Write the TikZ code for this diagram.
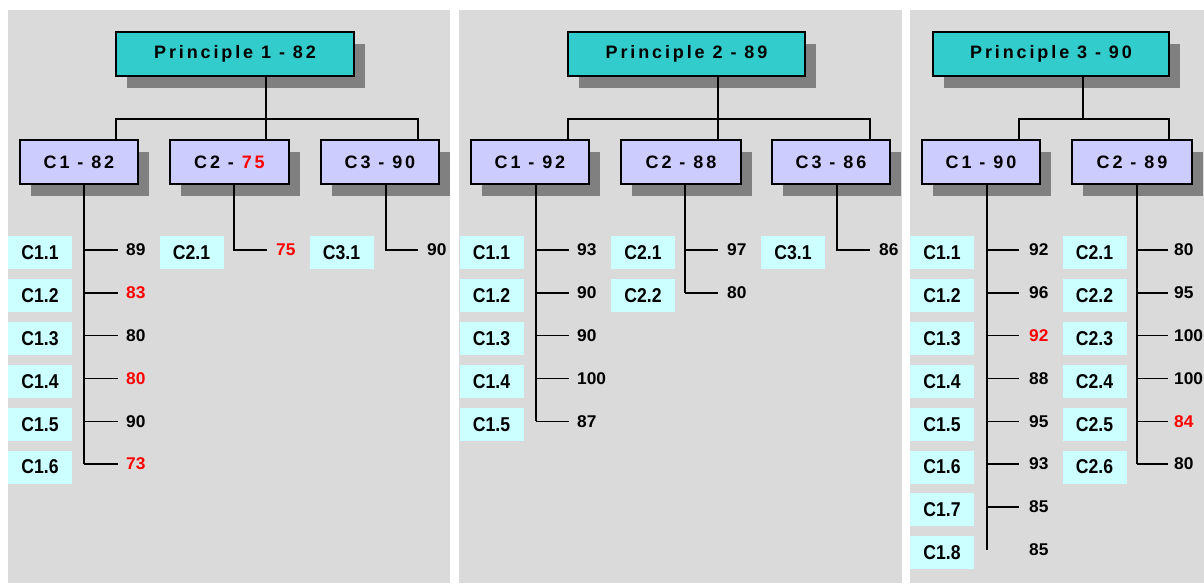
\documentclass[tikz,border=0pt]{standalone}
\usepackage{fontspec}
\setmainfont{Liberation Sans}
\newfontfamily\hdrfont[LetterSpace=16]{Liberation Sans}
\newfontfamily\lblfont[FakeStretch=0.88]{Liberation Sans}
\newfontfamily\numfont[FakeStretch=1.02]{Liberation Sans}
\usetikzlibrary{calc,shadows}
\definecolor{bggray}{RGB}{218,218,218}
\definecolor{princ}{RGB}{51,204,204}
\definecolor{cboxc}{RGB}{204,204,255}
\definecolor{leafc}{RGB}{204,255,255}
\definecolor{shadowc}{RGB}{128,128,128}
\definecolor{redc}{RGB}{255,0,0}
\begin{document}
\begin{tikzpicture}[x=1pt,y=-1pt,
  panel/.style={fill=bggray,draw=none},
  shad/.style={drop shadow={shadow xshift=11pt,shadow yshift=-12pt,fill=shadowc,opacity=1}},
  pbox/.style={shad,draw=black,line width=1.4pt,fill=princ,minimum height=44pt,inner sep=0pt,
    font=\hdrfont\bfseries\fontsize{18}{18}\selectfont},
  cbox/.style={shad,draw=black,line width=1.4pt,fill=cboxc,minimum height=44pt,inner sep=0pt,
    font=\hdrfont\bfseries\fontsize{18}{18}\selectfont},
  leaf/.style={fill=leafc,draw=none,minimum width=64pt,minimum height=33pt,inner sep=0pt,
    font=\lblfont\bfseries\fontsize{20}{20}\selectfont},
  num/.style={anchor=west,inner sep=0pt,font=\numfont\bfseries\fontsize{17}{17}\selectfont},
  conn/.style={draw=black,line width=1.4pt}
]
\useasboundingbox (0,0) rectangle (1204,585);
\fill[white] (0,0) rectangle (1204,585);
% panels
\fill[panel] (8,10) rectangle (450,583);
\fill[panel] (459,10) rectangle (902,583);
\fill[panel] (910,10) rectangle (1204,583);

% ================= Panel 1 =================
\node[pbox,minimum width=238pt] (p1) at (235,54) {Principle 1 - 82};
\node[cbox,minimum width=118pt] (a1) at (79,162) {C1 - 82};
\node[cbox,minimum width=119pt] (a2) at (229.5,162) {C2 - \textcolor{redc}{75}};
\node[cbox,minimum width=118pt] (a3) at (380,162) {C3 - 90};
\coordinate (a0j) at ($(p1.south)+(31,0)$);
\coordinate (h1l) at (116,119);
\coordinate (h1r) at (418,119);
\draw[conn] (a0j) -- (a0j |- a2.north);
\draw[conn] (a1.north -| h1l) -- (h1l) -- (h1r) -- (a3.north -| h1r);

\coordinate (a1v) at ($(a1.south)+(5,0)$);
\foreach [count=\i] \v/\c in {89/black,83/redc,80/black,80/redc,90/black,73/redc} {
  \pgfmathsetmacro\yy{249+42.8*(\i-1)}
  \node[leaf] (a1l\i) at (40,\yy+4) {C1.\i};
  \node[num,text=\c] (a1n\i) at (126,\yy+1) {\v};
  \draw[conn] (a1v |- a1n\i.west) -- ([xshift=-8pt]a1n\i.west);
}
\draw[conn] (a1v) -- (a1v |- a1n6.west);

\coordinate (a2v) at ($(a2.south)+(4.5,0)$);
\node[leaf] (a2l1) at (191.5,253) {C2.1};
\node[num,text=redc] (a2n1) at (276,250) {75};
\draw[conn] (a2v) |- ([xshift=-9pt]a2n1.west);

\coordinate (a3v) at ($(a3.south)+(6,0)$);
\node[leaf] (a3l1) at (341.5,253) {C3.1};
\node[num] (a3n1) at (427,250) {90};
\draw[conn] (a3v) |- ([xshift=-9pt]a3n1.west);

% ================= Panel 2 =================
\node[pbox,minimum width=237pt] (p2) at (686.5,54) {Principle 2 - 89};
\node[cbox,minimum width=118pt] (b1) at (530,162) {C1 - 92};
\node[cbox,minimum width=120pt] (b2) at (681,162) {C2 - 88};
\node[cbox,minimum width=118pt] (b3) at (831,162) {C3 - 86};
\coordinate (b0j) at ($(p2.south)+(31.5,0)$);
\coordinate (h2l) at (568,119);
\coordinate (h2r) at (870,119);
\draw[conn] (b0j) -- (b0j |- b2.north);
\draw[conn] (b1.north -| h2l) -- (h2l) -- (h2r) -- (b3.north -| h2r);

\coordinate (b1v) at ($(b1.south)+(6,0)$);
\foreach [count=\i] \v in {93,90,90,100,87} {
  \pgfmathsetmacro\yy{249+42.8*(\i-1)}
  \node[leaf] (b1l\i) at (491.5,\yy+4) {C1.\i};
  \node[num] (b1n\i) at (577,\yy+1) {\v};
  \draw[conn] (b1v |- b1n\i.west) -- ([xshift=-8pt]b1n\i.west);
}
\draw[conn] (b1v) -- (b1v |- b1n5.west);

\coordinate (b2v) at ($(b2.south)+(4,0)$);
\foreach [count=\i] \v in {97,80} {
  \pgfmathsetmacro\yy{249+42.8*(\i-1)}
  \node[leaf] (b2l\i) at (643,\yy+4) {C2.\i};
  \node[num] (b2n\i) at (727,\yy+1) {\v};
  \draw[conn] (b2v |- b2n\i.west) -- ([xshift=-9pt]b2n\i.west);
}
\draw[conn] (b2v) -- (b2v |- b2n2.west);

\coordinate (b3v) at ($(b3.south)+(6,0)$);
\node[leaf] (b3l1) at (793,253) {C3.1};
\node[num] (b3n1) at (879,250) {86};
\draw[conn] (b3v) |- ([xshift=-9pt]b3n1.west);

% ================= Panel 3 =================
\node[pbox,minimum width=236pt] (p3) at (1051,54) {Principle 3 - 90};
\node[cbox,minimum width=118pt] (c1) at (981,162) {C1 - 90};
\node[cbox,minimum width=120pt] (c2) at (1132,162) {C2 - 89};
\coordinate (c0j) at ($(p3.south)+(32,0)$);
\coordinate (h3l) at (1019,119);
\coordinate (h3r) at (1169,119);
\draw[conn] (c0j) -- (c0j |- h3l);
\draw[conn] (c1.north -| h3l) -- (h3l) -- (h3r) -- (c2.north -| h3r);

\coordinate (c1v) at ($(c1.south)+(6,0)$);
\foreach [count=\i] \v/\c in {92/black,96/black,92/redc,88/black,95/black,93/black,85/black,85/black} {
  \pgfmathsetmacro\yy{249+42.8*(\i-1)}
  \node[leaf] (c1l\i) at (942,\yy+4) {C1.\i};
  \node[num,text=\c] (c1n\i) at (1029,\yy+1) {\v};
}
\foreach \i in {1,...,7} {
  \draw[conn] (c1v |- c1n\i.west) -- ([xshift=-10pt]c1n\i.west);
}
\draw[conn] (c1v) -- (c1v |- c1n8.west);

\coordinate (c2v) at ($(c2.south)+(5,0)$);
\foreach [count=\i] \v/\c in {80/black,95/black,100/black,100/black,84/redc,80/black} {
  \pgfmathsetmacro\yy{249+42.8*(\i-1)}
  \node[leaf] (c2l\i) at (1094.5,\yy+4) {C2.\i};
  \node[num,text=\c] (c2n\i) at (1174,\yy+1) {\v};
  \draw[conn] (c2v |- c2n\i.west) -- ([xshift=-6pt]c2n\i.west);
}
\draw[conn] (c2v) -- (c2v |- c2n6.west);
\end{tikzpicture}
\end{document}
